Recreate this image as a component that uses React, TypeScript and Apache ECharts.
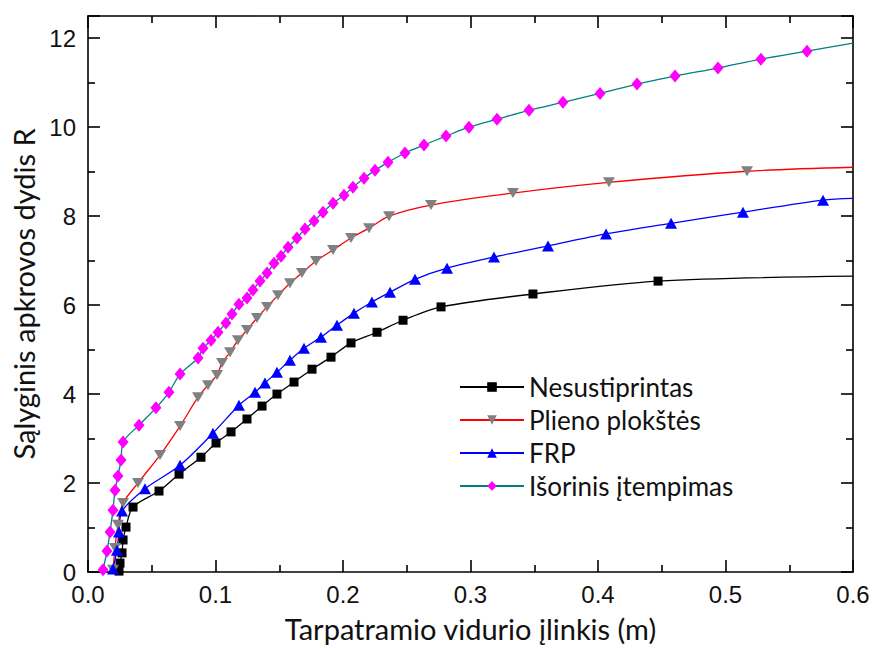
import React, { useEffect, useRef } from "react";
import * as echarts from "echarts";

const seriesNames = ["Nesustiprintas", "Plieno plokštės", "FRP", "Išorinis įtempimas"];

const xTicks = [0, 0.1, 0.2, 0.3, 0.4, 0.5, 0.6];
const yTicks = [0, 2, 4, 6, 8, 10, 12];

// [deflection m, R]
const nesustiprintas: number[][] = [
  [0.0243, 0.02], [0.0251, 0.2], [0.0267, 0.43], [0.0275, 0.72], [0.0298, 1.01],
  [0.0353, 1.46], [0.0557, 1.82], [0.0714, 2.2], [0.0886, 2.58], [0.1004, 2.9],
  [0.1122, 3.15], [0.1247, 3.44], [0.1365, 3.73], [0.1482, 4.0], [0.1616, 4.27],
  [0.1757, 4.56], [0.1906, 4.83], [0.2063, 5.15], [0.2267, 5.39], [0.2471, 5.66],
  [0.2769, 5.96], [0.349, 6.25], [0.4471, 6.54], [0.6, 6.65],
];

const plienoPlokstes: number[][] = [
  [0.0196, 0.05], [0.0212, 0.54], [0.0235, 1.06], [0.0275, 1.55], [0.0392, 2.0],
  [0.0565, 2.63], [0.0722, 3.28], [0.0863, 3.93], [0.0941, 4.2], [0.1012, 4.43],
  [0.1051, 4.7], [0.1114, 4.94], [0.1176, 5.21], [0.1247, 5.44], [0.1325, 5.71],
  [0.1404, 5.96], [0.149, 6.22], [0.1584, 6.49], [0.1678, 6.72], [0.1788, 6.99],
  [0.1922, 7.24], [0.2063, 7.51], [0.2204, 7.73], [0.2361, 8.0], [0.269, 8.25],
  [0.3333, 8.52], [0.4086, 8.76], [0.5169, 9.01], [0.6, 9.1],
];

const frp: number[][] = [
  [0.0196, 0.07], [0.0227, 0.49], [0.0243, 0.9], [0.0267, 1.37], [0.0447, 1.87],
  [0.0722, 2.4], [0.098, 3.12], [0.1184, 3.75], [0.131, 4.04], [0.1388, 4.25],
  [0.1482, 4.49], [0.1584, 4.76], [0.1694, 5.03], [0.1827, 5.28], [0.1953, 5.55],
  [0.2086, 5.82], [0.2227, 6.07], [0.2369, 6.29], [0.2565, 6.58], [0.2816, 6.83],
  [0.3184, 7.08], [0.3608, 7.33], [0.4063, 7.6], [0.4573, 7.84], [0.5137, 8.09],
  [0.5765, 8.36], [0.6, 8.4],
];

const isorinis: number[][] = [
  [0.0118, 0.05], [0.0149, 0.47], [0.0173, 0.9], [0.0196, 1.39], [0.0212, 1.84],
  [0.0235, 2.16], [0.0259, 2.52], [0.0275, 2.92], [0.04, 3.3], [0.0533, 3.69],
  [0.0635, 4.04], [0.0722, 4.45], [0.0863, 4.81], [0.0902, 5.03], [0.0965, 5.21],
  [0.102, 5.39], [0.1082, 5.6], [0.1129, 5.8], [0.1184, 6.02], [0.1247, 6.16],
  [0.1294, 6.34], [0.1349, 6.54], [0.1404, 6.72], [0.1459, 6.94], [0.1514, 7.1],
  [0.1569, 7.3], [0.1639, 7.51], [0.1702, 7.71], [0.1773, 7.89], [0.1843, 8.09],
  [0.1922, 8.29], [0.2008, 8.47], [0.2078, 8.65], [0.2165, 8.85], [0.2251, 9.03],
  [0.2353, 9.21], [0.2486, 9.42], [0.2635, 9.6], [0.2808, 9.8], [0.2988, 10.0],
  [0.3208, 10.18], [0.3459, 10.38], [0.3725, 10.56], [0.4016, 10.76], [0.4306, 10.97],
  [0.4604, 11.15], [0.4941, 11.33], [0.5278, 11.53], [0.5639, 11.71], [0.6, 11.89],
];

const TITLE_FONT = "Lato, 'Noto Sans', sans-serif";
const TICK_FONT = "'Liberation Sans', Arial, sans-serif";

function toData(arr: number[][]) {
  return arr.map((p, i) =>
    i === arr.length - 1 ? { value: p, symbol: "none" } : { value: p }
  );
}

export default function App() {
  const ref = useRef<HTMLDivElement>(null);
  useEffect(() => {
    if (!ref.current) return;
    const chart = echarts.init(ref.current, null, { renderer: "svg" });
    const axisLine = { show: true, onZero: false, lineStyle: { color: "#000", width: 1.6 } };
    const tick = { show: true, inside: true, length: 12, lineStyle: { color: "#000", width: 1.6 } };
    const minor = { show: true, splitNumber: 2, length: 7, lineStyle: { color: "#000", width: 1.6 } };
    const fmtX = (v: number) => {
      const r = Math.round(v * 10) / 10;
      return xTicks.some((t) => Math.abs(t - v) < 1e-9) ? r.toFixed(1) : "";
    };
    const fmtY = (v: number) => (yTicks.indexOf(v) >= 0 ? String(v) : "");
    const mkSeries = (
      name: string,
      data: number[][],
      symbol: string,
      size: number | number[],
      lineColor: string,
      markColor: string
    ) => ({
      name,
      type: "line",
      data: toData(data),
      symbol,
      symbolSize: size,
      smooth: 0.3,
      showAllSymbol: true,
      lineStyle: { color: lineColor, width: 1.3 },
      itemStyle: { color: markColor, borderWidth: 0 },
      xAxisIndex: 0,
      yAxisIndex: 0,
      z: 3,
    });
    const option: any = {
      animation: false,
      backgroundColor: "#fff",
      grid: { left: 88, right: 22, top: 16, bottom: 76, containLabel: false },
      legend: {
        orient: "vertical",
        left: 459,
        top: 374,
        padding: 0,
        itemWidth: 64,
        itemHeight: 12,
        itemGap: 7,
        textStyle: { fontFamily: TITLE_FONT, fontSize: 26, color: "#111" },
        data: seriesNames,
      },
      xAxis: [
        {
          type: "value",
          min: 0,
          max: 0.6,
          interval: 0.1,
          position: "bottom",
          name: "Tarpatramio vidurio įlinkis (m)",
          nameLocation: "middle",
          nameGap: 42,
          nameTextStyle: { fontFamily: TITLE_FONT, fontSize: 29, color: "#111" },
          axisLine,
          axisTick: tick,
          minorTick: minor,
          axisLabel: { fontFamily: TICK_FONT, fontSize: 24, color: "#111", margin: 10, formatter: fmtX },
          splitLine: { show: false },
        },
        {
          type: "value",
          min: 0,
          max: 0.6,
          interval: 0.1,
          position: "top",
          axisLine,
          axisTick: tick,
          minorTick: minor,
          axisLabel: { show: false },
          splitLine: { show: false },
        },
      ],
      yAxis: [
        {
          type: "value",
          min: 0,
          max: 12.5,
          interval: 2,
          position: "left",
          name: "Sąlyginis apkrovos dydis R",
          nameLocation: "middle",
          nameGap: 50,
          nameRotate: 90,
          nameTextStyle: { fontFamily: TITLE_FONT, fontSize: 29, color: "#111" },
          axisLine,
          axisTick: tick,
          minorTick: minor,
          axisLabel: { fontFamily: TICK_FONT, fontSize: 24, color: "#111", margin: 12, formatter: fmtY },
          splitLine: { show: false },
        },
        {
          type: "value",
          min: 0,
          max: 12.5,
          interval: 2,
          position: "right",
          axisLine,
          axisTick: tick,
          minorTick: minor,
          axisLabel: { show: false },
          splitLine: { show: false },
        },
      ],
      series: [
        mkSeries(seriesNames[0], nesustiprintas, "rect", 9, "#000000", "#000000"),
        mkSeries(seriesNames[1], plienoPlokstes, "path://M0,0 L12,0 L6,10 Z", [12, 10], "#ff0000", "#808080"),
        mkSeries(seriesNames[2], frp, "triangle", [12, 11], "#0000ff", "#0000ff"),
        mkSeries(seriesNames[3], isorinis, "diamond", [11, 13], "#008080", "#ff00ff"),
      ],
    };
    chart.setOption(option);
    return () => chart.dispose();
  }, []);
  return (
    <div
      ref={ref}
      style={{ position: "fixed", left: 0, top: 0, width: 875, height: 648, background: "#fff" }}
    />
  );
}
